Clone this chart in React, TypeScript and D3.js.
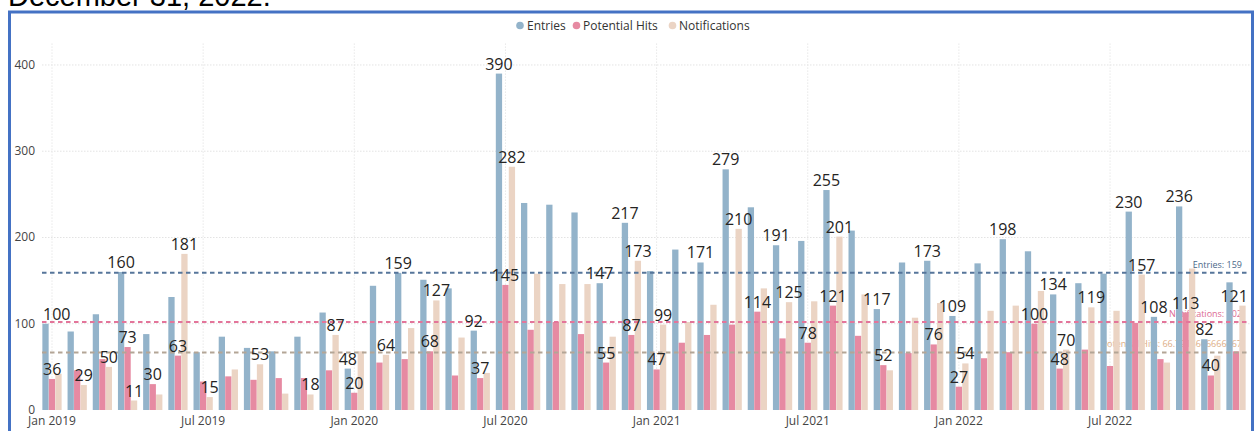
import React from "react";
import * as d3 from "d3";

// ---------- data ----------
const months: string[] = d3
  .timeMonth.range(new Date(2019, 0, 1), new Date(2023, 0, 1))
  .map((d) => d3.timeFormat("%Y-%m")(d));

const tickMonths = ["2019-01", "2019-07", "2020-01", "2020-07", "2021-01", "2021-07", "2022-01", "2022-07"];
const tickLabels = ["Jan 2019", "Jul 2019", "Jan 2020", "Jul 2020", "Jan 2021", "Jul 2021", "Jan 2022", "Jul 2022"];

const seriesNames = ["Entries", "Potential Hits", "Notifications"];

const entries = [
  100, 91, 111, 160, 88, 131, 67, 85, 72, 68, 85, 113,
  48, 144, 159, 151, 141, 92, 390, 240, 238, 229, 147, 217,
  161, 186, 171, 279, 235, 191, 196, 255, 208, 117, 171, 173,
  109, 170, 198, 184, 134, 147, 158, 230, 108, 236, 82, 148,
];
const potentialHits = [
  36, 46, 59, 73, 30, 63, 33, 39, 35, 37, 37, 46,
  20, 55, 59, 68, 40, 37, 145, 93, 102, 88, 55, 87,
  47, 78, 87, 99, 114, 83, 78, 121, 86, 52, 66, 76,
  27, 60, 67, 100, 48, 70, 51, 101, 59, 113, 40, 68,
];
const notifications = [
  42, 29, 50, 11, 18, 181, 15, 47, 53, 19, 18, 87,
  68, 64, 95, 127, 84, 43, 282, 158, 146, 146, 85, 173,
  99, 102, 122, 210, 141, 125, 126, 201, 134, 46, 107, 124,
  54, 115, 121, 138, 70, 119, 115, 157, 55, 164, 63, 121,
];

// month indices whose bars carry a data label
const entriesLabelIdx = [0, 3, 12, 14, 17, 18, 22, 23, 26, 27, 29, 31, 33, 35, 36, 38, 40, 43, 44, 45, 46];
const hitsLabelIdx = [0, 3, 4, 5, 12, 15, 17, 18, 22, 23, 24, 28, 30, 31, 33, 35, 36, 39, 40, 45, 46];
const notifLabelIdx = [1, 2, 3, 5, 6, 8, 10, 11, 13, 15, 18, 23, 24, 27, 29, 31, 36, 40, 41, 43, 47];

const yTicks = [0, 100, 200, 300, 400];

const refValues = [159, 102, 66.7916666666667];
const refLabels = ["Entries: 159", "Notifications: 102", "Potential Hits: 66.7916666666667"];

// ---------- styles ----------
const barColors = ["#93B3CA", "#E68AA2", "#EBD4C4"];
const refLineColors = ["#56759A", "#E3759A", "#B3A596"];
const refTextColors = ["#4A6788", "#DC6A92", "#DDAE86"];
const FONT = "'Segoe UI', 'Open Sans', sans-serif";

export default function App() {
  const W = 1258;
  const H = 431;
  const plotLeft = 42;
  const plotRight = 1250;
  const y = d3.scaleLinear().domain([0, 425]).range([410, 43.4]);

  const x = d3
    .scaleBand<string>()
    .domain(months)
    .range([39.4, 1248.6])
    .paddingInner(0.22)
    .paddingOuter(0.11);
  const xi = d3
    .scaleBand<string>()
    .domain(seriesNames)
    .range([0, x.bandwidth()])
    .padding(0.03);

  const series = [entries, potentialHits, notifications];
  const labelIdx = [entriesLabelIdx, hitsLabelIdx, notifLabelIdx];

  const center = (m: number) => (x(months[m]) as number) + x.bandwidth() / 2;

  const labels: { x: number; y: number; t: string }[] = [];
  series.forEach((vals, s) => {
    labelIdx[s].forEach((m) => {
      const v = vals[m];
      const bx = (x(months[m]) as number) + (xi(seriesNames[s]) as number) + xi.bandwidth() / 2;
      const t = String(v);
      const w = t.length * 9.2;
      let cx = bx;
      if (cx - w / 2 < 43) cx = 43 + w / 2;
      if (cx + w / 2 > 1248) cx = 1248 - w / 2;
      labels.push({ x: cx, y: y(v) - 4, t });
    });
  });

  const legendItems = [
    { cx: 520, tx: 527 },
    { cx: 576.5, tx: 583 },
    { cx: 672.5, tx: 679 },
  ];

  return (
    <svg
      width={W}
      height={H}
      style={{ position: "absolute", left: 0, top: 0, background: "#fff" }}
      fontFamily={FONT}
    >
      {/* page title (cut off) */}
      <text x={8} y={5.5} fontFamily="'Liberation Sans', Arial, sans-serif" fontSize={29} fill="#000">
        December 31, 2022.
      </text>
      {/* frame */}
      <rect x={9.5} y={12} width={1243} height={440} fill="#fff" stroke="#4472C4" strokeWidth={3} />

      {/* legend */}
      {seriesNames.map((n, i) => (
        <g key={n}>
          <circle cx={legendItems[i].cx} cy={25.5} r={3.8} fill={barColors[i]} />
          <text x={legendItems[i].tx} y={30} fontSize={12} fill="#333">
            {n}
          </text>
        </g>
      ))}

      {/* gridlines */}
      {yTicks.filter((t) => t > 0).map((t) => (
        <line
          key={t}
          x1={plotLeft}
          x2={plotRight}
          y1={y(t)}
          y2={y(t)}
          stroke="#E3E3E3"
          strokeWidth={1}
          strokeDasharray="1.5 1.5"
        />
      ))}
      {tickMonths.map((m) => {
        const cx = center(months.indexOf(m));
        return (
          <line
            key={m}
            x1={cx}
            x2={cx}
            y1={43.4}
            y2={410}
            stroke="#E8E8E8"
            strokeWidth={1}
            strokeDasharray="1.5 1.5"
          />
        );
      })}

      {/* y axis labels */}
      {yTicks.map((t) => (
        <text key={t} x={35} y={y(t) + 4} fontSize={12} fill="#444" textAnchor="end">
          {t}
        </text>
      ))}

      {/* x axis labels */}
      {tickMonths.map((m, i) => (
        <text key={m} x={center(months.indexOf(m))} y={425} fontSize={12} fill="#444" textAnchor="middle">
          {tickLabels[i]}
        </text>
      ))}

      {/* reference line labels (behind bars) */}
      {refValues.map((v, i) => (
        <text key={i} x={1242} y={y(v) - 5} fontSize={9} fill={refTextColors[i]} textAnchor="end">
          {refLabels[i]}
        </text>
      ))}

      {/* bars */}
      {series.map((vals, s) => (
        <g key={s} fill={barColors[s]}>
          {vals.map((v, m) => (
            <rect
              key={m}
              x={(x(months[m]) as number) + (xi(seriesNames[s]) as number)}
              y={y(v)}
              width={xi.bandwidth()}
              height={y(0) - y(v)}
            />
          ))}
        </g>
      ))}

      {/* reference lines */}
      {refValues.map((v, i) => (
        <line
          key={i}
          x1={plotLeft}
          x2={plotRight}
          y1={y(v)}
          y2={y(v)}
          stroke={refLineColors[i]}
          strokeWidth={2}
          strokeDasharray="4.5 3.5"
        />
      ))}

      {/* data labels */}
      {labels.map((l, i) => (
        <text key={i} x={l.x} y={l.y} fontSize={16} fill="#252423" textAnchor="middle">
          {l.t}
        </text>
      ))}
    </svg>
  );
}
